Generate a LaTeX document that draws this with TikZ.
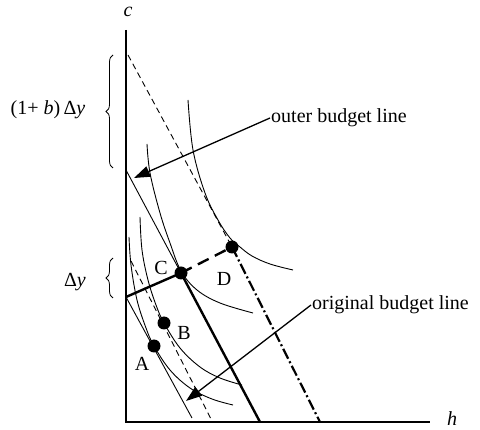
\documentclass[tikz,border=0pt]{standalone}
\usepackage{fontspec}
\setmainfont{Liberation Serif}
\usetikzlibrary{arrows.meta,decorations.pathreplacing}
\begin{document}
\begin{tikzpicture}[x=1pt,y=-1pt,
  font=\fontsize{20}{24}\selectfont,
  axisline/.style={line width=2.4pt},
  thinline/.style={line width=0.9pt},
  thickline/.style={line width=2.4pt},
  dashthin/.style={line width=0.9pt, dash pattern=on 6pt off 4pt},
  dashthick/.style={line width=2.4pt, dash pattern=on 12pt off 7pt},
  dashdotthick/.style={line width=2.2pt, dash pattern=on 11pt off 3pt on 2pt off 3pt},
  icurve/.style={line width=0.9pt},
  dotnode/.style={circle, fill=black, inner sep=0pt, minimum size=13pt},
  pointer/.style={line width=1.3pt, -{Triangle[length=16pt,width=11pt]}},
  lbl/.style={inner sep=1pt},
  bracestyle/.style={line width=0.8pt, decorate, decoration={brace, amplitude=7pt}}]
\useasboundingbox (0,0) rectangle (480,430);

% coordinates
\coordinate (origin) at (126,422);
\coordinate (ytop) at (126,30);
\coordinate (xend) at (430,422);
\coordinate (outer0) at (126,170);
\coordinate (outer1) at (260,422);
\coordinate (odash0) at (128,55);
\coordinate (odash1) at (320,422);
\coordinate (orig0) at (126,297);
\coordinate (orig1) at (192,418);
\coordinate (idash0) at (131,261);
\coordinate (idash1) at (211,419);
\coordinate (tip1) at (134,178);
\coordinate (tip2) at (186,401);

% points
\node[dotnode] (A) at (154,346) {};
\node[dotnode] (B) at (164,323) {};
\node[dotnode] (C) at (181,273) {};
\node[dotnode] (D) at (232,247) {};

% axes
\draw[axisline] (ytop) -- (origin) -- (xend);
\node[lbl] (clbl) at (128,12) {\textit{c}};
\node[lbl] (hlbl) at (452,419) {\textit{h}};

% budget lines
\draw[thinline] (outer0) -- (C.center);
\draw[thickline] (C.center) -- (outer1);
\draw[dashthin] (odash0) -- (D.center);
\draw[dashdotthick] (D.center) -- (odash1);
\draw[thinline] (orig0) -- (orig1);
\draw[dashthin] (idash0) -- (idash1);
\draw[thickline] (orig0) -- (C.center);
\draw[dashthick] (C.center) -- (D.center);

% indifference curves
\draw[icurve] plot[smooth, tension=0.6] coordinates {(188,100) (193,150) (205,193) (218,220) (230,238) (240,247) (252,256) (270,264) (293,270)};
\draw[icurve] plot[smooth, tension=0.6] coordinates {(147,144) (150,173) (160,213) (170,243) (181,271) (197,290) (220,303) (253,313)};
\draw[icurve] plot[smooth, tension=0.6] coordinates {(140,217) (142,250) (148,280) (156,305) (164,323) (180,348) (200,367) (220,378) (242,385)};
\draw[icurve] plot[smooth, tension=0.6] coordinates {(129,237) (131,265) (137,300) (146,328) (154,346) (170,370) (190,388) (212,399) (233,405)};

% point labels
\node[lbl] (Clbl) at (161,268) {C};
\node[lbl] (Dlbl) at (224,279) {D};
\node[lbl] (Blbl) at (184,333) {B};
\node[lbl] (Albl) at (142,364) {A};

% pointers
\node[lbl, anchor=west] (outerlbl) at (270,118) {outer budget line};
\node[lbl, anchor=west] (origlbl) at (311,305) {original budget line};
\draw[pointer] (outerlbl.west) -- (tip1);
\draw[pointer] (origlbl.west) -- (tip2);

% braces
\draw[bracestyle] (113,168) -- (113,55);
\draw[bracestyle] (113,298) -- (113,258);
\node[lbl] (bigdy) at (48,110) {(1+ \textit{b})\,Δ\textit{y}};
\node[lbl] (smalldy) at (75,282) {Δ\textit{y}};
\end{tikzpicture}
\end{document}
